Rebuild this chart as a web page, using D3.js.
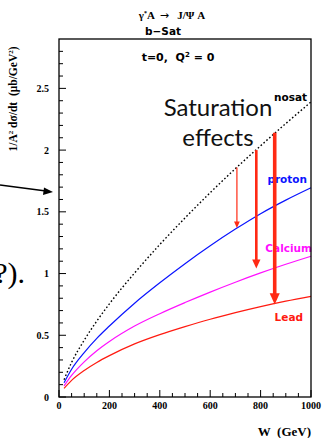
<!DOCTYPE html>
<html>
<head>
<meta charset="utf-8">
<script src="https://cdn.jsdelivr.net/npm/d3@7"></script>
<style>
  html, body { margin: 0; padding: 0; background: #fff; }
  svg { display: block; }
  text { white-space: pre; }
  .serif { font-family: "Liberation Serif", "DejaVu Serif", serif; font-weight: bold; }
  .sans { font-family: "DejaVu Sans", sans-serif; font-weight: bold; }
</style>
</head>
<body>
<div id="root"></div>
<script>
const WIDTH = 323
const HEIGHT = 438
const LEFT = 59
const RIGHT = 311
const TOP = 39
const BOTTOM = 397

// W (GeV) sample points
const energies = [20, 50, 100, 150, 200, 300, 400, 500, 600, 700, 800, 900, 1000]

// 1/A^2 dsigma/dt (ub/GeV^2)
const nosatValues   = [0.14, 0.28, 0.46, 0.615, 0.755, 1.005, 1.235, 1.45, 1.655, 1.85, 2.035, 2.215, 2.39]
const protonValues  = [0.115, 0.225, 0.36, 0.475, 0.575, 0.76, 0.925, 1.08, 1.225, 1.36, 1.485, 1.595, 1.695]
const calciumValues = [0.09, 0.175, 0.285, 0.375, 0.45, 0.575, 0.675, 0.765, 0.85, 0.93, 1.005, 1.075, 1.14]
const leadValues    = [0.07, 0.135, 0.215, 0.28, 0.335, 0.43, 0.505, 0.57, 0.63, 0.683, 0.732, 0.776, 0.815]

const xMajorTicks = [0, 200, 400, 600, 800, 1000]
const yMajorTicks = [0, 0.5, 1, 1.5, 2, 2.5]

// saturation arrows: W position, from nosat down to the curve
const arrowEnergies = [706, 783, 856]
const arrowTops = [1.86, 2.00, 2.14]
const arrowBottoms = [1.37, 1.04, 0.75]
const arrowWidths = [1.2, 2.6, 3.6]

const series = [
  { name: 'nosat', values: nosatValues, color: '#000', dash: '1.6,2.2', label: { x: 307, y: 101 } },
  { name: 'proton', values: protonValues, color: '#0a14ff', dash: null, label: { x: 307, y: 183 } },
  { name: 'Calcium', values: calciumValues, color: '#ff10ff', dash: null, label: { x: 312, y: 252 } },
  { name: 'Lead', values: leadValues, color: '#ff1a10', dash: null, label: { x: 303, y: 321 } }
]

const xScale = d3.scaleLinear().domain([0, 1000]).range([LEFT, RIGHT])
const yScale = d3.scaleLinear().domain([0, 2.9]).range([BOTTOM, TOP])

const svg = d3.select('#root')
  .append('svg')
  .attr('width', WIDTH)
  .attr('height', HEIGHT)

// titles
const title = svg.append('text')
  .attr('class', 'serif')
  .attr('x', 172)
  .attr('y', 19)
  .attr('text-anchor', 'middle')
  .style('font-size', '11px')
title.append('tspan').text('γ')
title.append('tspan').attr('dy', -4).style('font-size', '6px').text('*')
title.append('tspan').attr('dy', 4).text('A  ')
title.append('tspan').style('font-family', 'DejaVu Sans').style('font-weight', 'normal').text('→')
title.append('tspan').text('   J/Ψ A')

svg.append('text')
  .attr('class', 'sans')
  .attr('x', 163)
  .attr('y', 35)
  .attr('text-anchor', 'middle')
  .style('font-size', '10.5px')
  .text('b−Sat')

const sub = svg.append('text')
  .attr('class', 'sans')
  .attr('x', 178)
  .attr('y', 61)
  .attr('text-anchor', 'middle')
  .style('font-size', '11px')
sub.append('tspan').text('t=0,  Q')
sub.append('tspan').attr('dy', -4).style('font-size', '7px').text('2')
sub.append('tspan').attr('dy', 4).text(' = 0')

// curves
const line = d3.line()
  .x((d, i) => xScale(energies[i]))
  .y(d => yScale(d))
  .curve(d3.curveMonotoneX)

svg.append('g')
  .selectAll('path')
  .data(series)
  .enter()
  .append('path')
  .attr('d', d => line(d.values))
  .attr('fill', 'none')
  .attr('stroke', d => d.color)
  .attr('stroke-width', d => d.dash ? 1.4 : 1.2)
  .attr('stroke-dasharray', d => d.dash)

svg.append('g')
  .selectAll('text')
  .data(series)
  .enter()
  .append('text')
  .attr('class', 'sans')
  .attr('x', d => d.label.x)
  .attr('y', d => d.label.y)
  .attr('text-anchor', 'end')
  .style('font-size', '10.5px')
  .attr('fill', d => d.color)
  .text(d => d.name)

// frame
svg.append('rect')
  .attr('x', LEFT)
  .attr('y', TOP)
  .attr('width', RIGHT - LEFT)
  .attr('height', BOTTOM - TOP)
  .attr('fill', 'none')
  .attr('stroke', '#000')
  .attr('stroke-width', 1.3)

// axes with inward ticks
const xMinor = d3.range(0, 1001, 50)
const xAxis = svg.append('g').attr('transform', `translate(0, ${BOTTOM})`)
xAxis.selectAll('line')
  .data(xMinor)
  .enter()
  .append('line')
  .attr('x1', d => xScale(d))
  .attr('x2', d => xScale(d))
  .attr('y1', 0)
  .attr('y2', d => xMajorTicks.includes(d) ? -7 : -4)
  .attr('stroke', '#000')
xAxis.selectAll('text')
  .data(xMajorTicks)
  .enter()
  .append('text')
  .attr('class', 'serif')
  .attr('x', d => xScale(d))
  .attr('y', 12)
  .attr('text-anchor', 'middle')
  .style('font-size', '10px')
  .text(d => d)

const yMinor = d3.range(0, 29).map(i => i / 10)
const yAxis = svg.append('g').attr('transform', `translate(${LEFT}, 0)`)
yAxis.selectAll('line')
  .data(yMinor)
  .enter()
  .append('line')
  .attr('y1', d => yScale(d))
  .attr('y2', d => yScale(d))
  .attr('x1', 0)
  .attr('x2', (d, i) => i % 5 === 0 ? 7 : 4)
  .attr('stroke', '#000')
yAxis.selectAll('text')
  .data(yMajorTicks)
  .enter()
  .append('text')
  .attr('class', 'serif')
  .attr('x', -10)
  .attr('y', d => yScale(d) + 3.5)
  .attr('text-anchor', 'end')
  .style('font-size', '10px')
  .text(d => d)

svg.append('text')
  .attr('class', 'serif')
  .attr('x', RIGHT)
  .attr('y', 436)
  .attr('text-anchor', 'end')
  .style('font-size', '13px')
  .text('W  (GeV)')

const yLabel = svg.append('text')
  .attr('class', 'serif')
  .attr('transform', 'translate(17, 99) rotate(-90)')
  .attr('text-anchor', 'middle')
  .style('font-size', '11.5px')
yLabel.append('tspan').text('1/A')
yLabel.append('tspan').attr('dy', -4).style('font-size', '7px').text('2')
yLabel.append('tspan').attr('dy', 4).text(' dσ/dt  (μb/GeV')
yLabel.append('tspan').attr('dy', -4).style('font-size', '7px').text('2')
yLabel.append('tspan').attr('dy', 4).text(')')

// saturation arrows
const arrows = arrowEnergies.map((w, i) => ({ w, top: arrowTops[i], bottom: arrowBottoms[i], width: arrowWidths[i] }))
const arrowGroup = svg.append('g')
arrows.forEach(a => {
  const x = xScale(a.w)
  const yTip = yScale(a.bottom)
  const head = 4 + a.width * 2
  arrowGroup.append('line')
    .attr('x1', x).attr('x2', x)
    .attr('y1', yScale(a.top))
    .attr('y2', yTip - head * 0.8)
    .attr('stroke', '#ff2a14')
    .attr('stroke-width', a.width)
  arrowGroup.append('path')
    .attr('d', `M${x - head * 0.45},${yTip - head} L${x + head * 0.45},${yTip - head} L${x},${yTip} Z`)
    .attr('fill', '#ff2a14')
})

svg.append('text')
  .attr('x', 218)
  .attr('y', 116)
  .attr('text-anchor', 'middle')
  .style('font-family', 'Lato, sans-serif')
  .style('font-size', '24px')
  .attr('fill', '#111')
  .text('Saturation')
svg.append('text')
  .attr('x', 218)
  .attr('y', 146)
  .attr('text-anchor', 'middle')
  .style('font-family', 'Lato, sans-serif')
  .style('font-size', '24px')
  .attr('fill', '#111')
  .text('effects')

// stray pieces from the slide on the left
svg.append('line')
  .attr('x1', 0).attr('y1', 185)
  .attr('x2', 46).attr('y2', 191)
  .attr('stroke', '#000')
  .attr('stroke-width', 1.6)
svg.append('path')
  .attr('d', 'M53,192 L44,187.5 L43,195 Z')
  .attr('fill', '#000')
svg.append('text')
  .attr('x', 25)
  .attr('y', 283)
  .attr('text-anchor', 'end')
  .style('font-family', '"Liberation Serif", serif')
  .style('font-size', '30px')
  .text('(?).')
</script>
</body>
</html>
